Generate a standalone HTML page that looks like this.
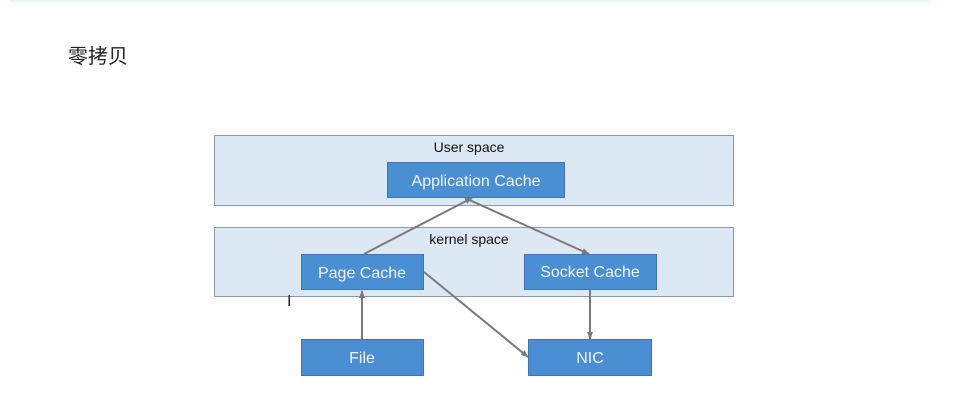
<!DOCTYPE html>
<html><head><meta charset="utf-8"><style>
html,body{margin:0;padding:0;background:#fdfefd;width:970px;height:406px;overflow:hidden;}
.t{position:absolute;left:68px;top:40px;font:20px "Liberation Sans","Noto Sans CJK SC",sans-serif;color:#222;}
.bar{position:absolute;left:10px;top:0;width:920px;height:2px;background:#e6f6f8;}
</style></head><body>
<div class="bar"></div>
<div class="t">零拷贝</div>
<svg width="970" height="406" style="position:absolute;left:0;top:0" font-family="Liberation Sans, sans-serif">
<defs><marker id="a" markerWidth="8" markerHeight="8" refX="7" refY="4" orient="auto" markerUnits="userSpaceOnUse"><path d="M0,1 L8,4 L0,7 z" fill="#7a7a7a"/></marker></defs>
<rect x="214.5" y="135.5" width="519" height="70" fill="#dce8f4" stroke="#8a9bb0" stroke-width="1"/>
<rect x="214.5" y="227.5" width="519" height="69" fill="#dce8f4" stroke="#8a9bb0" stroke-width="1"/>
<text x="469" y="152" font-size="14" text-anchor="middle" fill="#111">User space</text>
<text x="469" y="244" font-size="14" text-anchor="middle" fill="#111">kernel space</text>
<g fill="#4a8fd4" stroke="#3a77b8">
<rect x="387.5" y="162.5" width="177" height="35"/>
<rect x="301.5" y="254.5" width="122" height="35"/>
<rect x="524.5" y="254.5" width="132" height="35"/>
<rect x="301.5" y="339.5" width="122" height="36"/>
<rect x="528.5" y="339.5" width="123" height="36"/>
</g>
<g font-size="16" fill="#eef5fc" text-anchor="middle">
<text x="476" y="186">Application Cache</text>
<text x="362" y="278">Page Cache</text>
<text x="590" y="277">Socket Cache</text>
<text x="362" y="363">File</text>
<text x="590" y="363">NIC</text>
</g>
<g stroke="#7a7a7a" stroke-width="2" fill="none" marker-end="url(#a)">
<line x1="364" y1="254" x2="472" y2="198"/>
<line x1="465" y1="198" x2="589" y2="254"/>
<line x1="362" y1="339" x2="362" y2="291"/>
<line x1="590" y1="290" x2="590" y2="339"/>
<line x1="424" y1="272" x2="528" y2="357"/>
</g>
<text x="287" y="306" font-size="16" fill="#222">I</text>
</svg>
</body></html>
